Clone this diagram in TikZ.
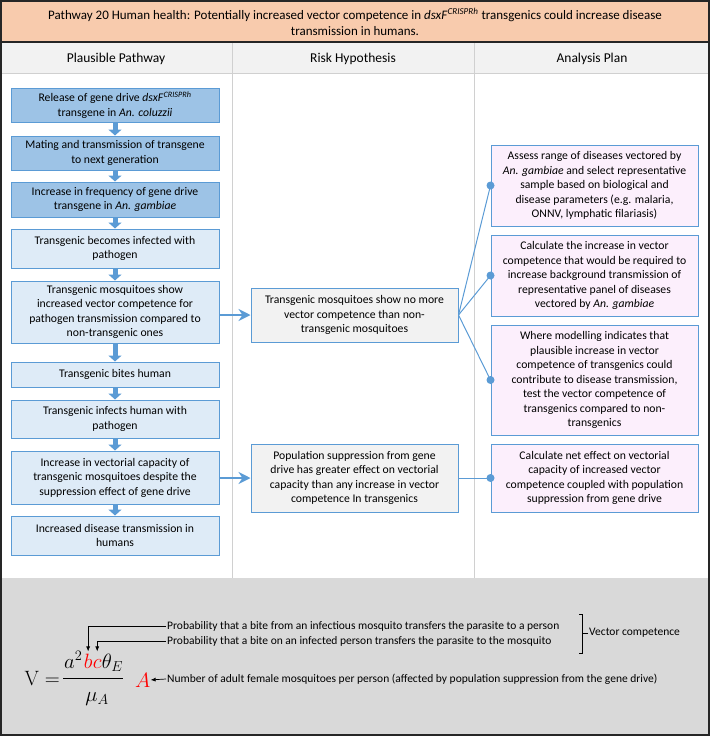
\documentclass[tikz,border=0pt]{standalone}
\usepackage[no-math]{fontspec}
\setmainfont{Carlito}
\usetikzlibrary{arrows.meta,positioning}
\definecolor{hdrorange}{HTML}{F8CBAD}
\definecolor{colgrey}{HTML}{F2F2F2}
\definecolor{rulegrey}{HTML}{D0D0D0}
\definecolor{boxblue}{HTML}{9DC3E6}
\definecolor{paleblue}{HTML}{DEEBF7}
\definecolor{lineblue}{HTML}{5B9BD5}
\definecolor{palepink}{HTML}{FCEFFC}
\definecolor{panelgrey}{HTML}{D9D9D9}
\newcommand{\dsx}{\textit{dsxF}\textsuperscript{\textit{CRISPRh}}}
\newcommand{\gam}{\textit{An. gambiae}}
\newcommand{\boxfont}{\fontsize{11.7}{14.5}\selectfont}

\begin{document}
\begin{tikzpicture}[x=1pt, y=-1pt,
  pbox/.style={draw=lineblue, line width=1pt, fill=paleblue, minimum width=208pt,
    align=center, font=\boxfont, inner sep=2pt},
  pdark/.style={pbox, fill=boxblue},
  riskbox/.style={pbox, fill=colgrey, minimum width=207pt},
  planbox/.style={pbox, fill=palepink, minimum width=207pt},
  blockarr/.style={-{Triangle[width=13pt,length=6pt]}, line width=5pt, lineblue},
  thinarr/.style={-{Stealth[width=12pt,length=12pt,inset=4pt]}, line width=1.2pt, lineblue},
  fan/.style={line width=1pt, lineblue},
  mathtxt/.style={inner sep=0pt, font=\fontsize{22}{26}\selectfont},
  note/.style={inner sep=1pt, font=\fontsize{11.5}{13}\selectfont},
  ptr/.style={-{Latex[length=5pt,width=4pt]}, line width=.7pt}]
\useasboundingbox (0,0) rectangle (710,736);

% table background
\fill[hdrorange] (0,0) rectangle (710,42);
\fill[colgrey] (0,42) rectangle (710,73);
\fill[panelgrey] (0,578) rectangle (710,736);
\draw[rulegrey] (0,73)--(710,73);
\draw[rulegrey, line width=1pt] (232,42)--(232,578);
\draw[rulegrey, line width=1pt] (474,42)--(474,578);
\draw[line width=1.5pt, black!85] (0,42)--(710,42);
\draw[line width=2pt, black!85] (1,1) rectangle (709,735);

\node[align=center, font=\fontsize{13}{16}\selectfont] (title) at (355,22) {Pathway 20 Human health: Potentially increased vector competence in \dsx{} transgenics could increase disease\\transmission in humans.};
\node[font=\fontsize{13.5}{16}\selectfont] (hpath) at (116,59) {Plausible Pathway};
\node[font=\fontsize{13.5}{16}\selectfont] (hrisk) at (353,59) {Risk Hypothesis};
\node[font=\fontsize{13.5}{16}\selectfont] (hplan) at (592,59) {Analysis Plan};

% plausible pathway
\node[pdark, minimum height=34pt] (p1) at (115,105) {Release of gene drive \dsx\\transgene in \textit{An. coluzzii}};
\node[pdark, minimum height=34pt] (p2) at (115,153) {Mating and transmission of transgene\\to next generation};
\node[pdark, minimum height=35pt] (p3) at (115,199.5) {Increase in frequency of gene drive\\transgene in \gam};
\node[pbox, minimum height=39pt] (p4) at (115,248.5) {Transgenic becomes infected with\\pathogen};
\node[pbox, minimum height=62pt] (p5) at (115,312) {Transgenic mosquitoes show\\increased vector competence for\\pathogen transmission compared to\\non-transgenic ones};
\node[pbox, minimum height=25pt] (p6) at (115,374.5) {Transgenic bites human};
\node[pbox, minimum height=38pt] (p7) at (115,419) {Transgenic infects human with\\pathogen};
\node[pbox, minimum height=53pt] (p8) at (115,477.5) {Increase in vectorial capacity of\\transgenic mosquitoes despite the\\suppression effect of gene drive};
\node[pbox, minimum height=39pt] (p9) at (115,535.5) {Increased disease transmission in\\humans};
\foreach \a/\b in {p1/p2,p2/p3,p3/p4,p4/p5,p5/p6,p6/p7,p7/p8,p8/p9}
  \draw[blockarr] (\a)--(\b);

% risk hypothesis
\node[riskbox, minimum height=54pt] (m1) at (354.5,315) {Transgenic mosquitoes show no more\\vector competence than non-\\transgenic mosquitoes};
\node[riskbox, minimum height=68pt] (m2) at (354.5,478) {Population suppression from gene\\drive has greater effect on vectorial\\capacity than any increase in vector\\competence In transgenics};
\draw[thinarr] (p5.east |- m1.west)--(m1.west);
\draw[thinarr] (p8.east |- m2.west)--(m2.west);

% analysis plan
\node[planbox, minimum height=81pt] (r1) at (594.5,185.5) {Assess range of diseases vectored by\\\gam{} and select representative\\sample based on biological and\\disease parameters (e.g. malaria,\\ONNV, lymphatic filariasis)};
\node[planbox, minimum height=81pt] (r2) at (594.5,275.5) {Calculate the increase in vector\\competence that would be required to\\increase background transmission of\\representative panel of diseases\\vectored by \gam};
\node[planbox, minimum height=110pt] (r3) at (594.5,380) {Where modelling indicates that\\plausible increase in vector\\competence of transgenics could\\contribute to disease transmission,\\test the vector competence of\\transgenics compared to non-\\transgenics};
\node[planbox, minimum height=68pt] (r4) at (594.5,478) {Calculate net effect on vectorial\\capacity of increased vector\\competence coupled with population\\suppression from gene drive};
\foreach \r in {r1,r2,r3}{
  \draw[fan] (m1.east)--(\r.west);
  \fill[lineblue] (\r.west) circle (4pt);
}
\draw[fan] (m2.east)--(r4.west);
\fill[lineblue] (r4.west) circle (4pt);

% vectorial capacity formula
\node[mathtxt, anchor=base east] (nv) at (60,685) {$\mathrm{V}=$};
\node[mathtxt, anchor=base west] (na) at (64,668) {$a^2$};
\node[mathtxt, anchor=base west, text=red] (nb) at ([xshift=1pt]na.base east) {$b$};
\node[mathtxt, anchor=base west, text=red] (nc) at (nb.base east) {$c$};
\node[mathtxt, anchor=base west] (nth) at (nc.base east) {$\theta_E$};
\draw[line width=.8pt] (63,678)--(nth.east |- 0,678);
\node[mathtxt, anchor=base] (nmu) at (97,701) {$\mu_A$};
\node[mathtxt, anchor=base west, text=red] (nA) at (135,687) {$A$};

\node[note, anchor=west] (tb) at (166,626) {Probability that a bite from an infectious mosquito transfers the parasite to a person};
\node[note, anchor=west] (tc) at (166,641) {Probability that a bite on an infected person transfers the parasite to the mosquito};
\node[note, anchor=west] (tA) at (166,679) {Number of adult female mosquitoes per person (affected by population suppression from the gene drive)};
\draw[ptr, shorten >=2pt] (tb.west) -| (nb.north);
\draw[ptr, shorten >=2pt] (tc.west) -| (nc.north |- nb.north);
\draw[ptr] (tA.west)--(nA.east);

\coordinate (brt) at (582,614);
\coordinate (brb) at (582,653);
\draw[line width=.7pt] (brt) ++(-3,0)--(brt)--(brb)--++(-3,0);
\node[note, anchor=west] (vc) at (588,633) {Vector competence};
\draw[line width=.7pt] (vc.west)--(vc.west -| brt);

\end{tikzpicture}
\end{document}
